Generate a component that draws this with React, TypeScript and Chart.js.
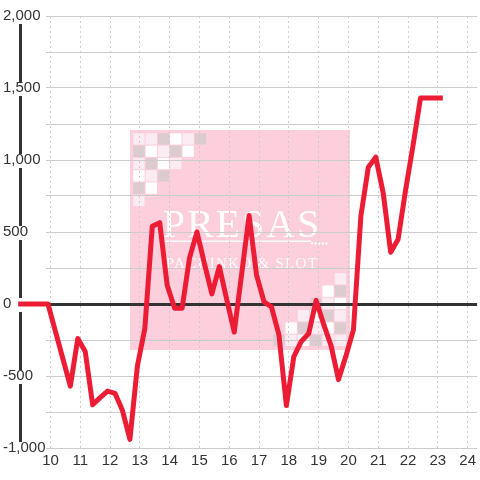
import React, { useEffect, useRef } from 'react';
import { Chart, registerables } from 'chart.js';

Chart.register(...registerables);

// ---- data ----
const TIMES = [
  '8:55', '9:10', '9:25', '9:40', '9:55', '10:10', '10:25', '10:40', '10:55', '11:10',
  '11:25', '11:40', '11:55', '12:10', '12:25', '12:40', '12:55', '13:10', '13:25', '13:40',
  '13:55', '14:10', '14:25', '14:40', '14:55', '15:10', '15:25', '15:40', '15:55', '16:10',
  '16:25', '16:40', '16:55', '17:10', '17:25', '17:40', '17:55', '18:10', '18:25', '18:40',
  '18:55', '19:10', '19:25', '19:40', '19:55', '20:10', '20:25', '20:40', '20:55', '21:10',
  '21:25', '21:40', '21:55', '22:10', '22:25', '22:40', '22:55', '23:10',
];
const BALANCE = [
  0, 0, 0, 0, 0, -190, -380, -570, -240, -330,
  -700, -650, -605, -620, -740, -940, -430, -170, 540, 565,
  130, -30, -30, 320, 500, 280, 70, 260, 30, -195,
  210, 615, 200, 15, -20, -215, -705, -365, -260, -205,
  25, -140, -290, -525, -360, -180, 610, 950, 1020, 770,
  360, 450, 790, 1100, 1430, 1430, 1430, 1430,
];
const X_TICKS = [10, 11, 12, 13, 14, 15, 16, 17, 18, 19, 20, 21, 22, 23, 24];
const X_MIN = 9.85;
const X_MAX = 24.317;
const Y_MIN = -1000;
const Y_MAX = 2000;
const Y_STEP = 250;
const Y_LABEL_STEP = 500;
const WATERMARK_TITLE = 'PRESAS';
const WATERMARK_SUB = 'PACHINKO & SLOT';

const toHours = (t: string) => {
  const [h, m] = t.split(':').map(Number);
  return h + m / 60;
};

const FONT = "'Liberation Sans', Arial, sans-serif";

// checker pattern of the watermark corners (0 light pink, 1 white, 2 gray)
const CHECKER = [
  [0, 0, 2, 1, 0, 2],
  [2, 1, 0, 2, 1],
  [0, 2, 1, 0],
  [1, 0, 2],
  [2, 1],
  [0],
];
const CHECKER_COLORS = ['#fbecf3', '#ffffff', '#dccbcf'];

const watermarkPlugin = {
  id: 'watermark',
  beforeDraw(chart: any) {
    const ctx = chart.ctx as CanvasRenderingContext2D;
    ctx.save();
    const x0 = 130, y0 = 130, x1 = 350, y1 = 350;
    ctx.fillStyle = '#fdcedb';
    ctx.fillRect(x0, y0, x1 - x0, y1 - y0);
    const step = 12.3, cell = 11.3;
    CHECKER.forEach((row, r) => {
      row.forEach((c, ci) => {
        ctx.fillStyle = CHECKER_COLORS[c];
        ctx.fillRect(x0 + 3.3 + ci * step, y0 + 3.3 + r * step, cell, cell);
        ctx.fillRect(x1 - 3 - (ci + 1) * step, y1 - 3 - (r + 1) * step, cell, cell);
      });
    });
    ctx.fillStyle = 'rgba(255,255,255,0.95)';
    ctx.textAlign = 'center';
    ctx.textBaseline = 'alphabetic';
    (ctx as any).letterSpacing = '2px';
    ctx.font = "40px 'Liberation Serif', 'DejaVu Serif', serif";
    ctx.fillText(WATERMARK_TITLE, 242, 237);
    ctx.fillRect(165, 240.5, 146, 1.5);
    for (let i = 0; i < 5; i++) {
      ctx.beginPath();
      ctx.arc(312 + i * 3.6, 243.5, 1.2, 0, Math.PI * 2);
      ctx.fill();
    }
    (ctx as any).letterSpacing = '1.3px';
    ctx.font = "15px 'Liberation Serif', 'DejaVu Serif', serif";
    ctx.fillText(WATERMARK_SUB, 242, 268);
    ctx.restore();
  },
};

const axisLinePlugin = {
  id: 'axisLine',
  beforeDatasetsDraw(chart: any) {
    const ctx = chart.ctx as CanvasRenderingContext2D;
    const ys = chart.scales.y;
    const x = chart.chartArea.left - 25.5;
    const top = chart.chartArea.top;
    const bottom = chart.chartArea.bottom;
    const gaps: Array<[number, number]> = [];
    for (let v = Y_MIN; v <= Y_MAX; v += Y_LABEL_STEP) {
      const p = ys.getPixelForValue(v);
      gaps.push([p - 6, p + 8]);
    }
    gaps.sort((a, b) => a[0] - b[0]);
    ctx.save();
    ctx.strokeStyle = '#333333';
    ctx.lineWidth = 3;
    let cur = top;
    for (const [g0, g1] of gaps) {
      if (g0 > cur) {
        ctx.beginPath();
        ctx.moveTo(x, cur);
        ctx.lineTo(x, Math.min(g0, bottom));
        ctx.stroke();
      }
      cur = Math.max(cur, g1);
    }
    if (cur < bottom) {
      ctx.beginPath();
      ctx.moveTo(x, cur);
      ctx.lineTo(x, bottom);
      ctx.stroke();
    }
    ctx.restore();
  },
};

export default function App() {
  const canvasRef = useRef<HTMLCanvasElement | null>(null);

  useEffect(() => {
    document.body.style.margin = '0';
    const canvas = canvasRef.current;
    if (!canvas) return;
    const points = TIMES.map((t, i) => ({ x: toHours(t), y: BALANCE[i] }));
    const chart = new Chart(canvas, {
      type: 'line',
      data: {
        datasets: [
          {
            data: points,
            borderColor: '#ec1c35',
            borderWidth: 5,
            pointRadius: 0,
            tension: 0,
            fill: false,
            clip: false as any,
            borderJoinStyle: 'round',
          },
        ],
      },
      options: {
        animation: false,
        responsive: false,
        maintainAspectRatio: false,
        layout: { padding: { top: 16, left: 3, right: 0, bottom: 0 } },
        plugins: { legend: { display: false }, tooltip: { enabled: false } },
        scales: {
          x: {
            type: 'linear',
            bounds: 'data',
            afterDataLimits: (s: any) => {
              s.min = X_MIN;
              s.max = X_MAX;
            },
            afterBuildTicks: (s: any) => {
              s.ticks = X_TICKS.map((v) => ({ value: v }));
            },
            afterFit: (s: any) => {
              s.height = 32;
            },
            grid: {
              color: '#cccccc',
              lineWidth: 1,
              drawTicks: false,
            },
            border: { display: false, dash: [2, 3] },
            ticks: {
              autoSkip: false,
              maxRotation: 0,
              padding: 4,
              color: '#333333',
              font: { family: FONT, size: 15 },
              callback: (v: any) => String(v),
            },
          },
          y: {
            type: 'linear',
            min: Y_MIN,
            max: Y_MAX,
            afterFit: (s: any) => {
              s.width = 43;
            },
            grid: {
              drawTicks: false,
              color: (c: any) => (c.tick && c.tick.value === 0 ? '#333333' : '#cccccc'),
              lineWidth: (c: any) => (c.tick && c.tick.value === 0 ? 3 : 1),
            },
            border: { display: false },
            ticks: {
              stepSize: Y_STEP,
              autoSkip: false,
              crossAlign: 'far',
              padding: 0,
              color: '#333333',
              font: { family: FONT, size: 15 },
              callback: (v: any) => (Number(v) % Y_LABEL_STEP === 0 ? Number(v).toLocaleString('en-US') : ''),
            },
          },
        },
      },
      plugins: [watermarkPlugin, axisLinePlugin],
    } as any);
    return () => chart.destroy();
  }, []);

  return (
    <div style={{ width: 480, height: 480 }}>
      <canvas ref={canvasRef} width={480} height={480} />
    </div>
  );
}
